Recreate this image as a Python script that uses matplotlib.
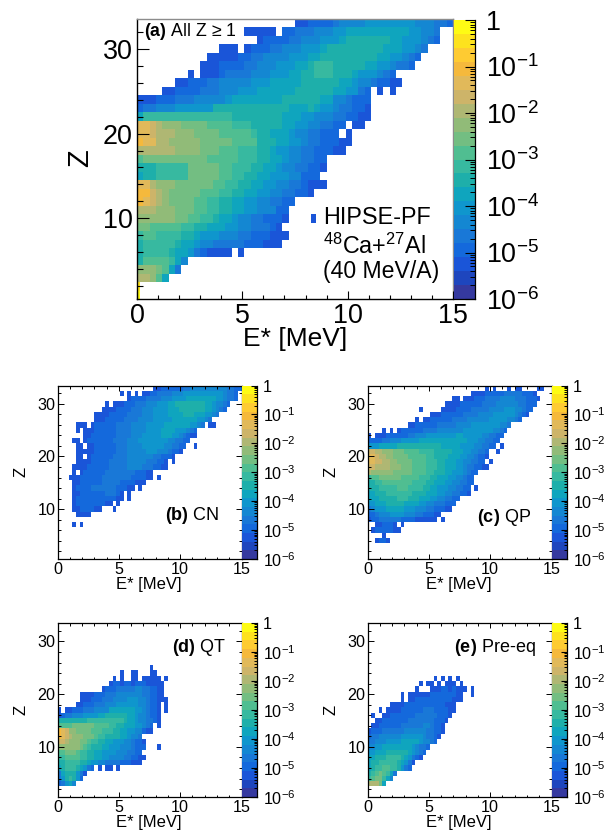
import numpy as np
import matplotlib
matplotlib.use("Agg")
import matplotlib.pyplot as plt
from matplotlib.colors import ListedColormap, LogNorm
from matplotlib.patches import Rectangle
from matplotlib.ticker import MultipleLocator, LogLocator, NullFormatter

plt.rcParams['font.family'] = ['Liberation Sans', 'DejaVu Sans']
plt.rcParams['mathtext.fontset'] = 'custom'
plt.rcParams['mathtext.rm'] = 'Liberation Sans'
plt.rcParams['mathtext.bf'] = 'Liberation Sans:bold'
plt.rcParams['mathtext.default'] = 'regular'

W, H = 613, 832

# palette of the colour bar, 20 steps from 1e-6 to 1
bird = ["#35399f", "#1e46be", "#1a55d8", "#1469dc", "#1978d7", "#1487d2", "#0f96cd",
        "#0fa5be", "#1eafaa", "#37b9a0", "#50be91", "#73be82", "#91bb78", "#afb773",
        "#cdb469", "#e1b95a", "#f5b93c", "#fecb32", "#fde21e", "#fefb14"]
level_chars = "0123456789abcdefghij"

# every row is (Z, first 0.3 MeV column, colour step of each column)
rows_a = [
    (33, 25, "2233334555566666666555443"),
    (32, 17, "22222" "." "33" "444" "555" "66" "777777777" "766" "55" "4"),
    (31, 19, "23333445556667" "8888888" "77" "666" "5" "4" "3"),
    (30, 13, "222.233344555666" "7" "888888888" "777" "66" "5" "4"),
    (29, 11, "222223344555566677" "888888888" "77" "66" "5" "4" "3"),
    (28, 10, "222" "3333" "44" "555" "666" "77" "8" "999" "88888" "77" "66" "5" "44" "3"),
    (27, 8, "2.222" "3" "4444" "555" "666" "77" "88" "999" "888" "7" "666" "5" "4" "3"),
    (26, 6, "22" "333" "44" "55555" "666" "77777" "888888" "77" "6" "55" "4" "33" "22"),
    (25, 4, "22" "3333" "444" "555" "666" "777777" "888888" "77" "66" "4" "3" "." "2" "." "2"),
    (24, 0, "222" "333" "444" "55555" "6" "77777777" "888888" "77" "55" "4" "333"),
    (23, 0, "3" "44" "555" "666666" "888888888888" "777" "8" "7" "66" "5" "44" "33" "2"),
    (22, 0, "7" "99999999999999" "88888888" "777" "66" "555" "44" "33" "22"),
    (21, 0, "ffedccc" "bbbb" "aaaa" "999" "88888" "77" "66" "55" "44" "33" "." "22"),
    (20, 0, "ffedddccc" "bbbb" "aaaaa" "9" "88" "777" "6" "55" "44" "333" "." "2"),
    (19, 0, "gffddccccc" "bbbbb" "aaaa" "888" "7766" "544" "333" "22"),
    (18, 0, "dddddd" "cccc" "bbb" "aaa" "999" "88" "766" "554" "433" "322"),
    (17, 0, "a" "bbbbbbbbbb" "aaaaa" "999" "88" "776" "554" "433"),
    (16, 0, "888" "99999" "bbbbb" "aa" "999" "88" "77" "655" "443" "3" "2"),
    (15, 0, "7" "88" "99999" "bbbbb" "aa" "99" "88" "77" "666" "55" "333"),
    (14, 0, "ffdccc" "bbbbbb" "aa" "99" "88" "77" "66" "55" "44" "3" "222"),
    (13, 0, "ggedc" "bbbbb" "aaa" "99" "88" "77" "665" "54" "433" "2"),
    (12, 0, "gfedc" "bbbb" "aa" "99" "88" "77" "6655" "44" "33"),
    (11, 0, "ddd" "ccc" "bbb" "aa" "99" "88" "77" "66" "555" "33"),
    (10, 0, "cccccc" "bb" "aa" "99" "877" "65" "544" "333" "2"),
    (9, 0, "bb" "aaaaa" "99" "88" "777" "665" "5444" "32"),
    (8, 0, "9aa" "9999" "88" "766" "655" "544" "333" "22" "2"),
    (7, 0, "8" "99999" "8" "77" "6" "5544444" "33322" "2"),
    (6, 0, "8" "9999" "8" "77" "6" "4" "3" "2222" "." "2"),
    (5, 0, "8aaaa975"),
    (4, 0, "cccba74"),
    (3, 0, "ddca7"),
]
spikes_a = [(1, "j"), (2, "i")]

rows_b = [
    (33, 26, "2233" "333344" "5555555555" "44" "33"),
    (32, 17, "2.2.2.22" "33" "4444" "555" "66666666666" "5" "44" "3"),
    (31, 19, "2333" "3444" "4555" "6666" "77777777" "665" "44" "3"),
    (30, 13, "2.22" "2333" "4445" "5566" "677" "88888888" "776" "55" "4" "3"),
    (29, 12, "2222" "3333" "44455" "56666" "777" "8888888" "77" "6" "5" "4" "3"),
    (28, 10, "2222" "3333" "3444" "45556" "66677" "7788877" "766" "5" "4"),
    (27, 10, "222" "3333" "3444" "45555" "66666" "7777777" "66" "5" "4"),
    (26, 5, "222.2" "3333" "3344" "44555" "566666" "7777777" "66" "5" "4" "." "22"),
    (25, 5, "2.222" "3333" "3344" "4455" "55666" "67777666" "543"),
    (24, 7, "22" "33333" "3344" "4455" "5666" "667776" "65" "43" "22"),
    (23, 4, "22." "233" "3333" "34444" "55566" "66666" "6554" "43" "3"),
    (22, 5, "22." "2" "23333" "33444" "55556" "66666" "554433" ".." "2"),
    (21, 5, "2222" "23333" "33444" "55555" "6665" "554332"),
    (20, 5, "22.2" "33333" "34444" "55555" "5544" "3332"),
    (19, 5, "222" "23333" "34444" "45555" "5444" "332" "." "2"),
    (18, 4, "222" "23333" "33444" "44555" "5444" "332" "2"),
    (17, 4, "2.2" "33333" "34444" "44443" "332" "2"),
    (16, 3, "222" "33333" "34444" "44443" "333" "22" "." "2"),
    (15, 4, "22" "33333" "34444" "43333" "22" "2"),
    (14, 4, "23" "33344" "44444" "333" "2" "2" "." "2"),
    (13, 4, "22" "33333" "33444" "3" "2" "." "2"),
    (12, 4, "2" "33333" "33333" "3" "2" "2" "." "2"),
    (11, 4, "2" "33333" "3332" "2" "." "2"),
    (10, 4, "2" "23333" "22" "..." "2"),
    (9, 5, "2222"),
    (7, 4, "2.2"),
]
spikes_b = []

rows_c = [
    (33, 32, "2.2...2.22....22"),
    (32, 28, "2222" "3" "3333" "44444" "333" "2"),
    (31, 23, "22." "22233" "34444" "555544" "4333" "2"),
    (30, 21, "2222" "33333" "34444" "55555" "54433" "3"),
    (29, 14, "2" "....." "2222" "33334" "44445" "55566" "655" "433"),
    (28, 17, "2223" "33333" "44445" "55566" "6666" "54" "3" "2"),
    (27, 13, "2.22" "33333" "34444" "55555" "56666" "655" "43"),
    (26, 11, "22" "33333" "34444" "45555" "66666" "66655" "4"),
    (25, 4, "2.2.2" "33333" "34444" "55555" "55666" "66666" "5543"),
    (24, 0, "2." "2223" "33333" "44555" "66666" "66677" "66666" "55443" "3"),
    (23, 0, "3333" "44555" "66666" "77777" "77777" "77766" "6554" "433"),
    (22, 0, "6667" "77778" "88888" "88888" "87777" "76666" "5544" "33" "." "2"),
    (21, 0, "eeddccc" "bbba" "aaa99" "99888" "88777" "6655" "443" ".." "2"),
    (20, 0, "ffe" "ddc" "cbbbb" "aaaaa" "99888" "87776" "6554" "332"),
    (19, 0, "ffe" "edd" "ccbbb" "baaaa" "99988" "77766" "5544" "33" "." "2"),
    (18, 0, "eed" "ddd" "cccbb" "baaaa" "99988" "77766" "5443" "32" "2"),
    (17, 0, "dcc" "ccc" "cbbbb" "baaaa" "99888" "77666" "5433"),
    (16, 0, "9aa" "bbb" "bbbaa" "aaa99" "98877" "76655" "433"),
    (15, 0, "889" "9aa" "aaaaa" "a9999" "88777" "66554" "433"),
    (14, 0, "888" "999" "99aaa" "99998" "87766" "65544" "33" "." "2"),
    (13, 0, "778" "889" "99999" "98888" "77766" "55443" "32"),
    (12, 0, "777" "888" "88999" "88877" "76655" "4433"),
    (11, 0, "667" "778" "88887" "77766" "55444" "33" "3"),
    (10, 0, "456" "667" "77776" "66555" "4433" "3" "22"),
    (9, 0, "33" "4555" "66665" "55443" "332" "2"),
    (8, 0, "2" "33444" "44433" "33" "2" "22222" "." "2"),
    (7, 2, "22" "333" "2" "." "2"),
    (6, 1, "2" "3333" "32" "2"),
    (5, 4, "2"),
    (4, 2, "2332"),
]
spikes_c = [(2, "3")]

rows_d = [
    (25, 25, "2"),
    (24, 17, "2..22...22"),
    (23, 15, "2.2..22.22222.2"),
    (22, 14, "2" "332332" "33322" "22" "2"),
    (21, 12, "2333" "44444" "55443" "32" "2"),
    (20, 6, "2222" "3" "33444" "55555" "55443" "32" "2"),
    (19, 6, "22" "23" "33444" "55556" "66554" "332" "22"),
    (18, 5, "22" "333" "44455" "56666" "66554" "332" "." "2"),
    (17, 0, "2." "22" "33344" "45555" "77777" "77665" "4332" "." "2"),
    (16, 0, "23" "44555" "66667" "78888" "88776" "55433" "2"),
    (15, 0, "88" "88888" "89999" "99999" "98776" "55443" "2"),
    (14, 0, "aaaa" "bbbbbb" "aaaa9" "988" "77766" "543" "." "2"),
    (13, 0, "gfec" "cbbb" "baaa" "9998" "8776" "655" "3" "22"),
    (12, 0, "gfed" "ccc" "bbb" "a99" "8888" "776" "554"),
    (11, 0, "eedc" "cc" "bba" "998" "877" "666" "554" "332"),
    (10, 0, "cccccc" "ba9" "8887" "766" "65554" "333" "..." "2"),
    (9, 0, "aa" "bbb" "a" "99" "8877" "6666" "55544" "33"),
    (8, 0, "99aa" "aa99" "887" "7665" "555443" "32" "2"),
    (7, 0, "88" "9999" "88" "7665" "54444" "33322" "2"),
    (6, 0, "78" "999" "8" "7" "6" "4" "3" "." "2" "." "2" "2" "." "2"),
    (5, 0, "47888642"),
    (4, 0, "4689863"),
    (3, 0, "34675"),
]
spikes_d = [(1, "d"), (2, "a")]

rows_e = [
    (23, 18, "2.2.2.2"),
    (22, 14, "2.22.2.222.2"),
    (21, 13, "2..." "22" "233232" "22" "." "2"),
    (20, 9, "2." "2222" "2" "23333" "33322" ".." "2"),
    (19, 9, "2." "22333" "33333" "3322" "2"),
    (18, 6, "222" "23333" "33333" "332" "22"),
    (17, 3, "2." "22" "2" "23333" "33444" "33332" "2"),
    (16, 1, "2" ".." "2" "23333" "33344" "44443" "332"),
    (15, 2, "22" "33333" "33444" "44443" "332"),
    (14, 1, "22" "33333" "34444" "44554" "332"),
    (13, 0, "233" "34444" "44555" "55544" "332"),
    (12, 0, "344" "55555" "56666" "66544" "32"),
    (11, 0, "445" "55666" "67777" "76554" "3"),
    (10, 0, "556" "67777" "77776" "544" "3"),
    (9, 0, "667" "77888" "88876" "543"),
    (8, 0, "778" "88999" "98764" "32"),
    (7, 0, "788" "99999" "8764" "2"),
    (6, 0, "789" "9aa99" "8643"),
    (5, 0, "89aba974"),
    (4, 0, "9abb975"),
    (3, 0, "dddb7"),
]
spikes_e = [(1, "j"), (2, "i")]

x_edges = np.linspace(0, 15, 51)
z_edges = np.arange(0.5, 34.5, 1)
cmap = ListedColormap(bird)
norm = LogNorm(1e-6, 1)
cbar_labels = ["$10^{-6}$", "$10^{-5}$", "$10^{-4}$", "$10^{-3}$", "$10^{-2}$", "$10^{-1}$", "1"]


def level_value(ch):
    return 10 ** (-6 + (level_chars.index(ch) + 0.5) * 0.3)


def to_grid(rows):
    grid = np.full((33, 50), np.nan)
    for z, start, levels in rows:
        for i, ch in enumerate(levels):
            if ch != "." and start + i < 50:
                grid[z - 1, start + i] = level_value(ch)
    return np.ma.masked_invalid(grid)


def px_rect(x0, y0, x1, y1):
    return [x0 / W, 1 - y1 / H, (x1 - x0) / W, (y1 - y0) / H]


def draw_panel(box, cbar_box, rows, spikes, big=False):
    ax = fig.add_axes(px_rect(*box))
    ax.pcolormesh(x_edges, z_edges, to_grid(rows), cmap=cmap, norm=norm, antialiased=False)
    for z, ch in spikes:
        ax.barh(z, 0.15, height=1, left=0, color=bird[level_chars.index(ch)], linewidth=0)
    ax.set_xlim(0, 15)
    ax.set_ylim(0.5, 33.5)
    ax.xaxis.set_major_locator(MultipleLocator(5))
    ax.xaxis.set_minor_locator(MultipleLocator(1))
    ax.yaxis.set_major_locator(MultipleLocator(10))
    ax.yaxis.set_minor_locator(MultipleLocator(2))
    ax.set_axisbelow(False)
    if big:
        fs = 19.4
        ax.tick_params(axis='x', which='major', direction='in', length=5.8, width=0.8, labelsize=fs, pad=3)
        ax.tick_params(axis='x', which='minor', direction='in', length=2.9, width=0.8)
        ax.tick_params(axis='y', which='major', direction='in', length=8.4, width=0.8, labelsize=fs, pad=3)
        ax.tick_params(axis='y', which='minor', direction='in', length=4.1, width=0.8)
        for s in ['top', 'right']:
            ax.spines[s].set_color('#8c8c8c')
        for s in ax.spines.values():
            s.set_linewidth(1.0)
    else:
        fs = 11.6
        ax.tick_params(axis='x', which='major', direction='in', length=3.6, width=0.7, labelsize=fs, pad=2.5,
                       top=True)
        ax.tick_params(axis='x', which='minor', direction='in', length=1.8, width=0.7, top=True)
        ax.tick_params(axis='y', which='major', direction='in', length=4.6, width=0.7, labelsize=fs, pad=1.5,
                       right=True)
        ax.tick_params(axis='y', which='minor', direction='in', length=2.3, width=0.7, right=True)
        for s in ax.spines.values():
            s.set_linewidth(0.9)

    cax = fig.add_axes(px_rect(*cbar_box))
    bins = np.logspace(-6, 0, 21)
    cax.pcolormesh([0, 1], bins, np.sqrt(bins[:-1] * bins[1:]).reshape(-1, 1), cmap=cmap, norm=norm,
                   antialiased=False)
    cax.set_yscale('log')
    cax.set_ylim(1e-6, 1)
    cax.set_xlim(0, 1)
    cax.xaxis.set_visible(False)
    cax.yaxis.tick_right()
    cax.set_yticks(10.0 ** np.arange(-6, 1))
    cax.set_yticklabels(cbar_labels)
    cax.yaxis.set_minor_locator(LogLocator(base=10, subs=np.arange(2, 10), numticks=10))
    cax.yaxis.set_minor_formatter(NullFormatter())
    cax.set_axisbelow(False)
    major, minor, pad = (7, 3.5, 8) if big else (4.3, 2.2, 4.5)
    cax.tick_params(axis='y', which='major', direction='in', length=major, width=0.8, labelsize=fs, pad=pad)
    cax.tick_params(axis='y', which='minor', direction='in', length=minor, width=0.7)
    cax.spines['top'].set_visible(False)
    cax.spines['left'].set_visible(False)
    for s in ['right', 'bottom']:
        cax.spines[s].set_linewidth(0.9)
    return ax


def px_text(x, y, s, **kw):
    fig.text(x / W, 1 - y / H, s, **kw)


fig = plt.figure(figsize=(W / 100, H / 100), dpi=100)

# top panel
draw_panel((137, 19, 453, 299), (454, 20, 475, 299), rows_a, spikes_a, big=True)
px_text(295, 339, "E* [MeV]", fontsize=19, ha='center', va='center')
px_text(80, 158, "Z", fontsize=21, ha='center', va='center', rotation=90)
px_text(144, 32, r"$\mathbf{(a)}$ All Z ≥ 1", fontsize=12.8, ha='left', va='center')
fig.add_artist(Rectangle((311 / W, 1 - 223 / H), 4.5 / W, 9 / H, transform=fig.transFigure,
                         color=bird[2], linewidth=0))
px_text(323, 224, "HIPSE-PF", fontsize=16.8, ha='left', va='baseline')
px_text(323, 254, "$^{48}$Ca+$^{27}$Al", fontsize=16.8, ha='left', va='baseline')
px_text(323, 278, "(40 MeV/A)", fontsize=16.6, ha='left', va='baseline')

# the four small panels
small_panels = [
    ((57.5, 385.5, 241.5, 559), (242, 385.5, 257, 559), rows_b, spikes_b, (165, 516), r"$\mathbf{(b)}$ CN", 0),
    ((367.5, 385.5, 551.5, 559), (552, 385.5, 567, 559), rows_c, spikes_c, (477, 518), r"$\mathbf{(c)}$ QP", 310),
    ((57.5, 623, 241.5, 797), (242, 623, 257, 797), rows_d, spikes_d, (172, 648), r"$\mathbf{(d)}$ QT", 0),
    ((367.5, 623, 551.5, 797), (552, 623, 567, 797), rows_e, spikes_e, (454, 648), r"$\mathbf{(e)}$ Pre-eq", 310),
]
for box, cbar_box, rows, spikes, label_pos, label, dx in small_panels:
    draw_panel(box, cbar_box, rows, spikes)
    px_text(label_pos[0], label_pos[1], label, fontsize=13, ha='left', va='center')
    px_text(149 + dx, box[3] + 25, "E* [MeV]", fontsize=12, ha='center', va='center')
    px_text(21 + dx, (box[1] + box[3]) / 2, "Z", fontsize=12, ha='center', va='center', rotation=90)

fig.savefig("out.png", dpi=100)
